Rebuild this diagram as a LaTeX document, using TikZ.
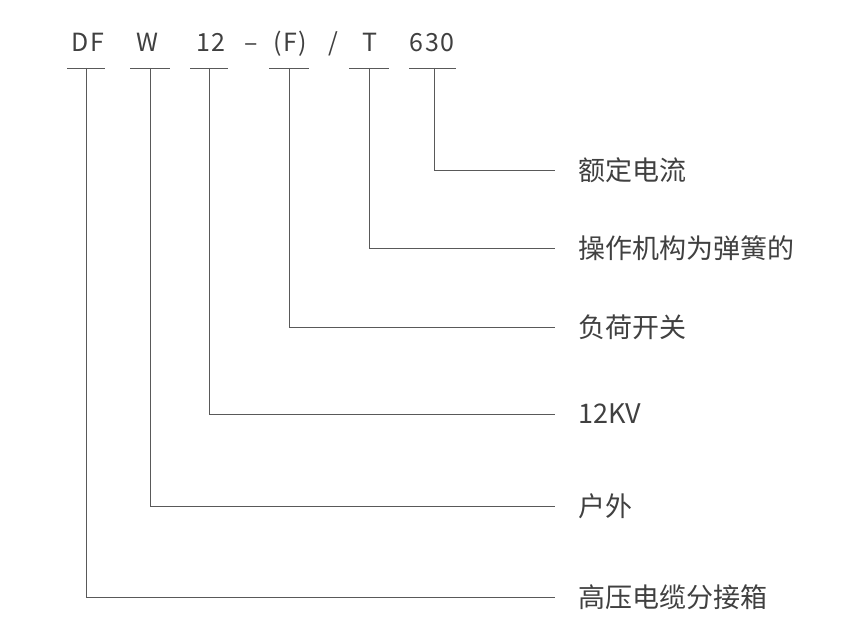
\documentclass[tikz,border=0pt]{standalone}
\usepackage{fontspec}
\setmainfont{Noto Sans CJK SC}
\newfontfamily\codefont[LetterSpace=5]{Noto Sans CJK SC}
\begin{document}
\begin{tikzpicture}[x=1pt,y=-1pt]
		\tikzstyle{code}=[text=black!75,font=\codefont\fontsize{25}{25}\selectfont,inner sep=0pt,anchor=base]
		\tikzstyle{desc}=[text=black!75,font=\fontsize{27}{27}\selectfont,inner sep=0pt,anchor=west]
		\tikzstyle{rule}=[draw=black!65,line width=0.9pt]
		\useasboundingbox (0,0) rectangle (854,636);

		\node[code](df) at (88,52){DF};
		\node[code](w) at (147,52){W};
		\node[code](kv) at (211,52){12};
		\node[code](dash) at (251,52){–};
		\node[code](f) at (290,52){(F)};
		\node[code](slash) at (333,52){/};
		\node[code](t) at (370,52){T};
		\node[code](amp) at (432,52){630};

		\coordinate(dfu) at (86,68);
		\coordinate(wu) at (150,68);
		\coordinate(kvu) at (209,68);
		\coordinate(fu) at (289,68);
		\coordinate(tu) at (369,68);
		\coordinate(ampu) at (434,68);

		\node[desc](ampd) at (578,170){额定电流};
		\node[desc](td) at (578,248){操作机构为弹簧的};
		\node[desc](fd) at (578,327){负荷开关};
		\node[desc](kvd) at (578,414){12KV};
		\node[desc](wd) at (578,506){户外};
		\node[desc](dfd) at (578,597){高压电缆分接箱};

		% underlines
		\draw[rule] (dfu) ++(-19,0) -- ++(38,0);
		\draw[rule] (wu) ++(-20,0) -- ++(40,0);
		\draw[rule] (kvu) ++(-19,0) -- ++(38,0);
		\draw[rule] (fu) ++(-20,0) -- ++(40,0);
		\draw[rule] (tu) ++(-20,0) -- ++(40,0);
		\draw[rule] (ampu) ++(-25,0) -- ++(47,0);

		\draw[rule] (ampu) |- ([xshift=-23pt]ampd.west);
		\draw[rule] (tu) |- ([xshift=-23pt]td.west);
		\draw[rule] (fu) |- ([xshift=-23pt]fd.west);
		\draw[rule] (kvu) |- ([xshift=-23pt]kvd.west);
		\draw[rule] (wu) |- ([xshift=-23pt]wd.west);
		\draw[rule] (dfu) |- ([xshift=-23pt]dfd.west);
	\end{tikzpicture}
\end{document}
